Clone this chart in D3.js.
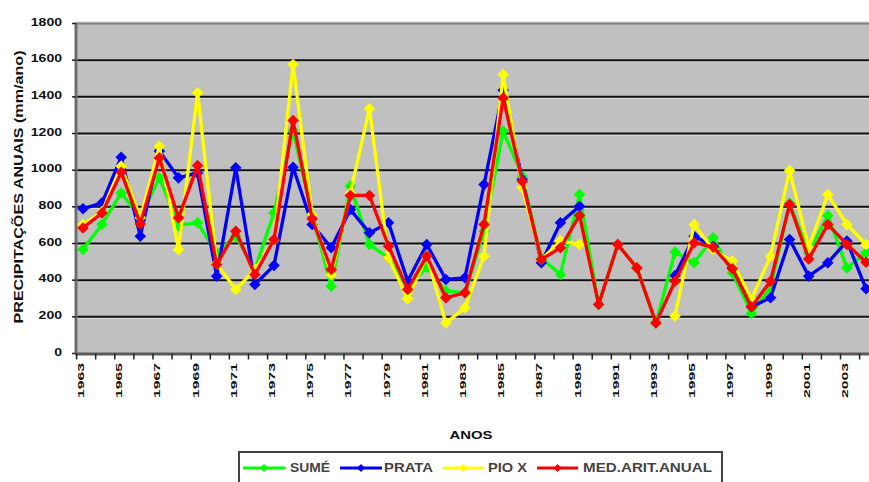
<!DOCTYPE html>
<html>
<head>
<meta charset="utf-8">
<script src="https://cdn.jsdelivr.net/npm/d3@7"></script>
<style>
  html, body { margin: 0; padding: 0; background: #ffffff; }
  svg { display: block; }
  text { font-family: "Liberation Sans", Arial, sans-serif; }
</style>
</head>
<body>
<svg id="chart" width="869" height="482"></svg>
<script>
const years = [1963,1964,1965,1966,1967,1968,1969,1970,1971,1972,1973,1974,1975,1976,1977,1978,1979,1980,1981,1982,1983,1984,1985,1986,1987,1988,1989,1990,1991,1992,1993,1994,1995,1996,1997,1998,1999,2000,2001,2002,2003,2004];

const sume  = [567,705,876,740,958,700,713,549,640,459,767,1216,758,367,913,595,520,360,470,341,331,667,1213,967,520,431,867,267,595,467,167,553,495,631,440,220,358,819,549,753,467,549];
const prata = [789,822,1071,640,1105,958,985,422,1013,376,480,1016,704,577,785,658,713,394,595,404,413,922,1436,949,495,713,803,null,null,null,null,425,640,585,467,255,304,622,422,495,613,353];
const pioX  = [704,774,1022,740,1131,567,1422,490,349,458,619,1576,758,430,876,1335,522,298,531,167,249,531,1522,904,513,613,595,null,null,null,null,204,704,567,504,295,531,998,577,867,704,595];
const media = [685,767,989,707,1067,740,1025,485,667,431,622,1271,735,458,862,862,585,349,531,304,331,704,1394,940,513,577,753,267,595,467,167,394,604,580,462,255,394,813,516,704,595,498];

const seriesNames = ["SUMÉ","PRATA","PIO X","MED.ARIT.ANUAL"];
const seriesColors = ["#00ff00","#0000ff","#ffff00","#ff0000"];
const yTickValues = [0,200,400,600,800,1000,1200,1400,1600,1800];
const xTickLabels = ["1963","1965","1967","1969","1971","1973","1975","1977","1979","1981","1983","1985","1987","1989","1991","1993","1995","1997","1999","2001","2003"];
const yTitle = "PRECIPITAÇÕES ANUAIS (mm/ano)";
const xTitle = "ANOS";

const svg = d3.select("#chart");
const plotLeft = 77, plotRight = 869, plotTop = 23.5, plotBottom = 353.5;

const x = d3.scaleLinear().domain([1963, 2004]).range([83, 866]);
const y = d3.scaleLinear().domain([0, 1800]).range([plotBottom, plotTop]);

// plot background
svg.append("rect").attr("x", plotLeft).attr("y", plotTop)
  .attr("width", plotRight - plotLeft).attr("height", plotBottom - plotTop)
  .attr("fill", "#c0c0c0");

// gridlines
yTickValues.filter(v => v > 0 && v < 1800).forEach(v => {
  svg.append("line").attr("x1", plotLeft).attr("x2", plotRight)
    .attr("y1", y(v) + 1.6).attr("y2", y(v) + 1.6)
    .attr("stroke", "#dcdcdc").attr("stroke-width", 1.2);
  svg.append("line").attr("x1", plotLeft).attr("x2", plotRight)
    .attr("y1", y(v)).attr("y2", y(v))
    .attr("stroke", "#111").attr("stroke-width", 2);
});
// top border
svg.append("line").attr("x1", plotLeft).attr("x2", plotRight)
  .attr("y1", y(1800) - 1.5).attr("y2", y(1800) - 1.5)
  .attr("stroke", "#e0e0e0").attr("stroke-width", 1.5);
svg.append("line").attr("x1", plotLeft).attr("x2", plotRight)
  .attr("y1", y(1800)).attr("y2", y(1800))
  .attr("stroke", "#808080").attr("stroke-width", 2);

// y axis line
svg.append("line").attr("x1", plotLeft - 1).attr("x2", plotLeft - 1)
  .attr("y1", plotTop - 1).attr("y2", plotBottom + 1)
  .attr("stroke", "#6e6e6e").attr("stroke-width", 3);
// y ticks and labels
yTickValues.forEach(v => {
  svg.append("line").attr("x1", 72).attr("x2", plotLeft - 1)
    .attr("y1", y(v)).attr("y2", y(v)).attr("stroke", "#222").attr("stroke-width", 1.5);
  const s = String(v);
  svg.append("text").attr("x", 62).attr("y", y(v) - 2)
    .attr("text-anchor", "end").attr("dominant-baseline", "central")
    .attr("font-size", 11).attr("font-weight", "bold").attr("fill", "#111")
    .attr("textLength", s.length * 7.8).attr("lengthAdjust", "spacingAndGlyphs")
    .text(s);
});

// x axis line
svg.append("line").attr("x1", plotLeft - 2).attr("x2", plotRight)
  .attr("y1", plotBottom + 0.5).attr("y2", plotBottom + 0.5)
  .attr("stroke", "#5a5a5a").attr("stroke-width", 3);
// x ticks
years.concat([2005]).forEach(yr => {
  const tx = x(yr) - 6.4;
  svg.append("line").attr("x1", tx).attr("x2", tx)
    .attr("y1", plotBottom).attr("y2", plotBottom + 6)
    .attr("stroke", "#222").attr("stroke-width", 1.5);
});
// x labels
xTickLabels.forEach(lbl => {
  const lx = x(+lbl) - 2;
  svg.append("text")
    .attr("transform", `translate(${lx},363) rotate(-90)`)
    .attr("text-anchor", "end").attr("dominant-baseline", "central")
    .attr("font-size", 8.5).attr("font-weight", "bold").attr("fill", "#111")
    .attr("textLength", 35).attr("lengthAdjust", "spacingAndGlyphs")
    .text(lbl);
});

// y title
svg.append("text")
  .attr("transform", "translate(18,187) rotate(-90)")
  .attr("text-anchor", "middle").attr("dominant-baseline", "central")
  .attr("font-size", 13).attr("font-weight", "bold").attr("fill", "#111")
  .attr("textLength", 273).attr("lengthAdjust", "spacingAndGlyphs")
  .text(yTitle);

// x title
svg.append("text").attr("x", 471).attr("y", 435)
  .attr("text-anchor", "middle").attr("dominant-baseline", "central")
  .attr("font-size", 10).attr("font-weight", "bold").attr("fill", "#111")
  .attr("textLength", 43).attr("lengthAdjust", "spacingAndGlyphs")
  .text(xTitle);

// series
const allSeries = [sume, prata, pioX, media];
const line = d3.line()
  .defined(d => d.v !== null)
  .x(d => x(d.yr)).y(d => y(d.v));
const marker = d3.symbol().type(d3.symbolDiamond2).size(85);

allSeries.forEach((vals, i) => {
  const pts = years.map((yr, j) => ({ yr, v: vals[j] }));
  const g = svg.append("g");
  g.append("path").datum(pts).attr("d", line)
    .attr("fill", "none").attr("stroke", seriesColors[i])
    .attr("stroke-width", 3.3).attr("stroke-linejoin", "round");
  g.selectAll("path.m").data(pts.filter(d => d.v !== null)).enter()
    .append("path").attr("class", "m")
    .attr("transform", d => `translate(${x(d.yr)},${y(d.v)})`)
    .attr("d", marker).attr("fill", seriesColors[i]);
});

// legend
const legend = svg.append("g");
legend.append("rect").attr("x", 239).attr("y", 452)
  .attr("width", 483).attr("height", 40)
  .attr("fill", "#fff").attr("stroke", "#444").attr("stroke-width", 2);
const legItems = [
  { lx1: 243, lx2: 285, tx: 290, tl: 40 },
  { lx1: 340, lx2: 382, tx: 384, tl: 49 },
  { lx1: 443, lx2: 483, tx: 488, tl: 39 },
  { lx1: 537, lx2: 578, tx: 583, tl: 129 }
];
const legMarker = d3.symbol().type(d3.symbolDiamond2).size(40);
legItems.forEach((it, i) => {
  legend.append("line").attr("x1", it.lx1).attr("x2", it.lx2)
    .attr("y1", 468).attr("y2", 468)
    .attr("stroke", seriesColors[i]).attr("stroke-width", 3);
  legend.append("path").attr("transform", `translate(${(it.lx1 + it.lx2) / 2},468)`)
    .attr("d", legMarker).attr("fill", seriesColors[i]);
  legend.append("text").attr("x", it.tx).attr("y", 468)
    .attr("dominant-baseline", "central")
    .attr("font-size", 12).attr("font-weight", "bold").attr("fill", "#444")
    .attr("textLength", it.tl).attr("lengthAdjust", "spacingAndGlyphs")
    .text(seriesNames[i]);
});
</script>
</body>
</html>
